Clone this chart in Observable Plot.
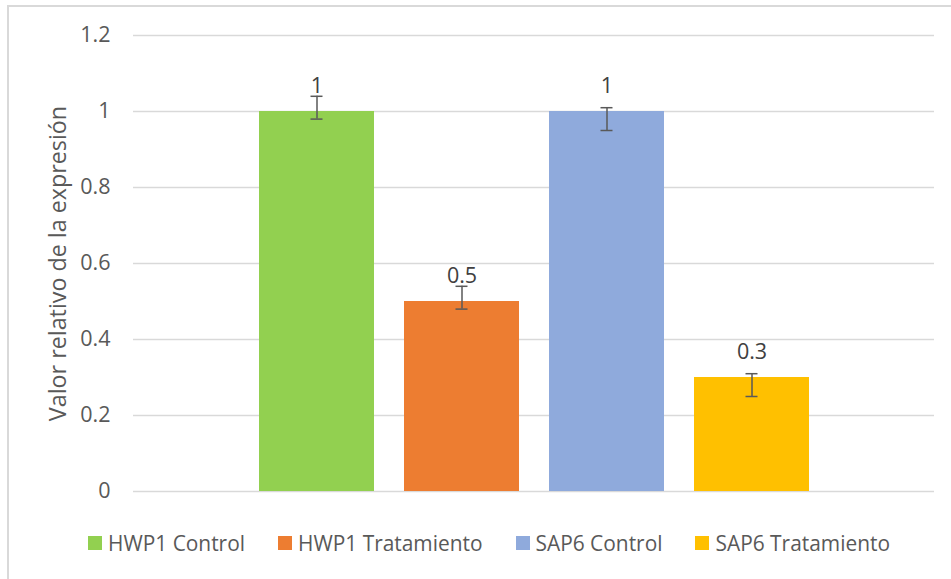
<!DOCTYPE html>
<html>
<head>
<meta charset="utf-8">
<script src="https://cdn.jsdelivr.net/npm/d3@7"></script>
<script src="https://cdn.jsdelivr.net/npm/@observablehq/plot@0.6"></script>
<style>
  html, body { margin: 0; padding: 0; background: #fff; }
  #wrap { position: relative; width: 951px; height: 579px; overflow: hidden; font-family: "Open Sans", Lato, sans-serif; }
  #border { position: absolute; left: 7px; top: 5px; width: 1000px; height: 700px; border: 2px solid #d9d9d9; box-sizing: border-box; }
  #chart { position: absolute; left: 0; top: 0; }
  #legend { position: absolute; left: 88px; top: 531px; display: flex; align-items: center; height: 24px; font-size: 20.9px; color: #595959; white-space: nowrap; }
  .item { display: flex; align-items: center; margin-right: 33px; }
  .sw { width: 14px; height: 14px; margin-right: 6px; }
</style>
</head>
<body>
<div id="wrap">
  <div id="border"></div>
  <div id="chart"></div>
  <div id="legend"></div>
</div>
<script>
const series = ["HWP1 Control", "HWP1 Tratamiento", "SAP6 Control", "SAP6 Tratamiento"];
const values = [1, 0.5, 1, 0.3];
const errLow = [0.98, 0.48, 0.95, 0.25];
const errHigh = [1.04, 0.54, 1.01, 0.31];
const labels = ["1", "0.5", "1", "0.3"];
const colors = ["#92d050", "#ed7d31", "#8faadc", "#ffc000"];
const yTicks = [0, 0.2, 0.4, 0.6, 0.8, 1, 1.2];
const yTitle = "Valor relativo de la expresión";

const data = series.map((s, i) => ({s, v: values[i], lo: errLow[i], hi: errHigh[i], label: labels[i]}));

const plot = Plot.plot({
  width: 951,
  height: 520,
  marginTop: 35,
  marginBottom: 29,
  marginLeft: 133,
  marginRight: 17,
  style: {fontFamily: "'Open Sans', Lato, sans-serif", background: "transparent", overflow: "visible"},
  x: {domain: series, paddingInner: 0.21, paddingOuter: 0.8575, axis: null},
  y: {domain: [0, 1.2], ticks: yTicks},
  color: {domain: series, range: colors},
  marks: [
    Plot.ruleY(yTicks, {stroke: "#d9d9d9", strokeWidth: 1.5}),
    Plot.axisY({ticks: yTicks, tickSize: 0, tickPadding: 23, tickFormat: d => String(d), fontSize: 21.5, fill: "#595959", label: null}),
    Plot.barY(data, {x: "s", y: "v", fill: "s"}),
    Plot.ruleX(data, {x: "s", y1: "lo", y2: "hi", stroke: "#595959", strokeWidth: 1.5}),
    Plot.tickY(data, {x: "s", y: "lo", stroke: "#595959", strokeWidth: 1.5, insetLeft: 51.5, insetRight: 51.5}),
    Plot.tickY(data, {x: "s", y: "hi", stroke: "#595959", strokeWidth: 1.5, insetLeft: 51.5, insetRight: 51.5}),
    Plot.text(data, {x: "s", y: "v", text: "label", dy: -25, fontSize: 21.5, fill: "#404040", lineAnchor: "middle"}),
    Plot.text([yTitle], {frameAnchor: "left", dx: -75, rotate: -90, fontSize: 23.3, fill: "#595959", lineAnchor: "middle", textAnchor: "middle"})
  ]
});
document.getElementById("chart").appendChild(plot);

const legend = document.getElementById("legend");
series.forEach((s, i) => {
  const item = document.createElement("div");
  item.className = "item";
  const sw = document.createElement("div");
  sw.className = "sw";
  sw.style.background = colors[i];
  const t = document.createElement("span");
  t.textContent = s;
  item.appendChild(sw);
  item.appendChild(t);
  legend.appendChild(item);
});
</script>
</body>
</html>
